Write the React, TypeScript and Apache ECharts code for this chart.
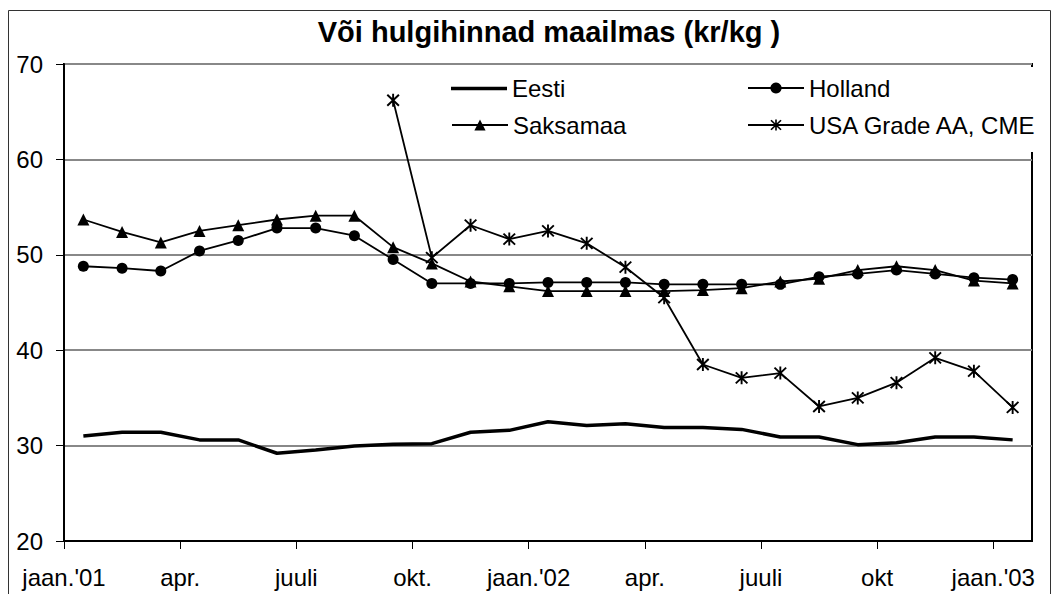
import React, { useEffect, useRef } from "react";
import * as echarts from "echarts";

// Monthly data, jaan. 2001 ... jaan. 2003 (25 months)
const months = [
  "2001-01", "2001-02", "2001-03", "2001-04", "2001-05", "2001-06", "2001-07", "2001-08", "2001-09",
  "2001-10", "2001-11", "2001-12", "2002-01", "2002-02", "2002-03", "2002-04", "2002-05", "2002-06",
  "2002-07", "2002-08", "2002-09", "2002-10", "2002-11", "2002-12", "2003-01",
];
const eesti = [31.0, 31.4, 31.4, 30.6, 30.6, 29.2, 29.55, 29.95, 30.15, 30.2, 31.4, 31.6, 32.5, 32.1, 32.3, 31.9, 31.9, 31.7, 30.9, 30.9, 30.1, 30.3, 30.9, 30.9, 30.6];
const holland = [48.8, 48.6, 48.3, 50.4, 51.5, 52.8, 52.8, 52.0, 49.5, 47.0, 47.0, 47.0, 47.1, 47.1, 47.1, 46.9, 46.9, 46.9, 46.9, 47.7, 48.0, 48.4, 48.0, 47.6, 47.4];
const saksamaa = [53.7, 52.4, 51.3, 52.5, 53.1, 53.7, 54.1, 54.1, 50.8, 49.1, 47.2, 46.7, 46.2, 46.2, 46.2, 46.2, 46.3, 46.5, 47.2, 47.5, 48.4, 48.8, 48.4, 47.3, 47.0];
const usa = [null, null, null, null, null, null, null, null, 66.2, 49.7, 53.1, 51.65, 52.5, 51.2, 48.7, 45.5, 38.5, 37.1, 37.6, 34.1, 35.0, 36.6, 39.2, 37.8, 34.0];

const xTickLabels = ["jaan.'01", "apr.", "juuli", "okt.", "jaan.'02", "apr.", "juuli", "okt", "jaan.'03"];
const yMin = 20;
const yMax = 70;
const yStep = 10;

const FONT = '"Liberation Sans", Arial, sans-serif';
const STAR =
  "path://M-0.9,-6.5L0.9,-6.5L0.9,6.5L-0.9,6.5Z" +
  "M-4.86,-6.14L6.14,4.86L4.86,6.14L-6.14,-4.86Z" +
  "M-4.86,6.14L-6.14,4.86L4.86,-6.14L6.14,-4.86Z";

export default function App() {
  const ref = useRef<HTMLDivElement>(null);
  useEffect(() => {
    if (!ref.current) return;
    const chart = echarts.init(ref.current, undefined, { renderer: "svg" });
    const pts = (arr: (number | null)[]) => arr.map((v, i) => [i + 0.5, v]);
    const tickValues = xTickLabels.map((_, i) => i * 3);
    const legendBase = {
      orient: "horizontal" as const,
      padding: 0,
      itemWidth: 56,
      itemHeight: 14,
      textStyle: { fontSize: 24, color: "#000", fontFamily: FONT },
      selectedMode: false,
      z: 5,
    };
    chart.setOption({
      animation: false,
      backgroundColor: "#fff",
      grid: {
        left: 64,
        top: 64,
        right: 24,
        bottom: 53,
        show: true,
        borderColor: "#000",
        borderWidth: 2,
        containLabel: false,
      },
      graphic: [
        {
          type: "rect",
          z: 1,
          shape: { x: 8.5, y: 10.5, width: 1042, height: 700 },
          style: { fill: "none", stroke: "#333", lineWidth: 1 },
        },
        {
          type: "rect",
          z: 3,
          shape: { x: 440, y: 67, width: 600, height: 85 },
          style: { fill: "#fff" },
        },
        {
          type: "text",
          z: 5,
          x: 549,
          y: 32,
          style: {
            text: "Või hulgihinnad maailmas (kr/kg )",
            fill: "#000",
            font: `bold 29px ${FONT}`,
            align: "center",
            verticalAlign: "middle",
            textAlign: "center",
            textVerticalAlign: "middle",
          },
        },
      ],
      legend: [
        { ...legendBase, left: 451, top: 76.5, data: [{ name: "Eesti", icon: "rect" }], itemHeight: 3.5 },
        { ...legendBase, left: 747, top: 76, data: ["Holland"] },
        { ...legendBase, left: 451, top: 113, data: ["Saksamaa"] },
        { ...legendBase, left: 747, top: 113, data: ["USA Grade AA, CME"] },
      ],
      xAxis: {
        type: "value",
        min: 0,
        max: months.length,
        axisLine: { show: true, lineStyle: { color: "#000", width: 2 } },
        axisTick: { show: true, length: 8, customValues: tickValues, lineStyle: { color: "#000", width: 1 } },
        axisLabel: {
          customValues: tickValues,
          formatter: (v: number) => xTickLabels[Math.round(v / 3)] ?? "",
          fontSize: 24,
          color: "#000",
          fontFamily: FONT,
          margin: 24,
        },
        splitLine: { show: false },
      },
      yAxis: {
        type: "value",
        min: yMin,
        max: yMax,
        interval: yStep,
        axisLine: { show: true, lineStyle: { color: "#000", width: 2 } },
        axisTick: { show: true, length: 8, lineStyle: { color: "#000", width: 1 } },
        axisLabel: { fontSize: 24, color: "#000", fontFamily: FONT, margin: 21 },
        splitLine: { show: true, lineStyle: { color: "#888", width: 2 } },
      },
      series: [
        {
          name: "Eesti",
          type: "line",
          data: pts(eesti),
          showSymbol: false,
          symbol: "none",
          lineStyle: { color: "#000", width: 3.5 },
          itemStyle: { color: "#000" },
          z: 2,
        },
        {
          name: "Holland",
          type: "line",
          data: pts(holland),
          symbol: "circle",
          symbolSize: 11,
          lineStyle: { color: "#000", width: 1.8 },
          itemStyle: { color: "#000" },
          z: 3,
        },
        {
          name: "Saksamaa",
          type: "line",
          data: pts(saksamaa),
          symbol: "triangle",
          symbolSize: 12,
          lineStyle: { color: "#000", width: 1.8 },
          itemStyle: { color: "#000" },
          z: 3,
        },
        {
          name: "USA Grade AA, CME",
          type: "line",
          data: pts(usa),
          symbol: STAR,
          symbolSize: [13, 13],
          connectNulls: false,
          lineStyle: { color: "#000", width: 1.8 },
          itemStyle: { color: "#000" },
          z: 3,
        },
      ],
    });
    return () => chart.dispose();
  }, []);
  return (
    <div
      ref={ref}
      style={{ position: "fixed", left: 0, top: 0, width: 1056, height: 594 }}
    />
  );
}
